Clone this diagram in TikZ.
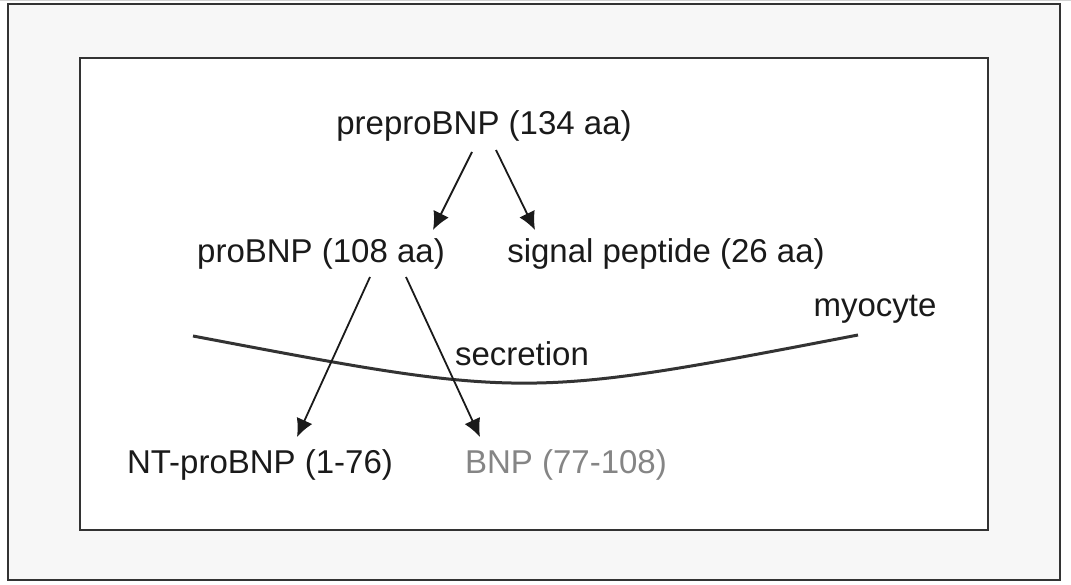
\documentclass[tikz,border=0pt]{standalone}
\usepackage{fontspec}
\setmainfont{Liberation Sans}
\usetikzlibrary{arrows.meta}
\definecolor{frame}{HTML}{333333}
\definecolor{panel}{HTML}{F7F7F7}
\definecolor{ink}{HTML}{1A1A1A}
\definecolor{faded}{HTML}{858585}
\begin{document}
\begin{tikzpicture}[x=1pt,y=-1pt,
  lbl/.style={inner sep=0pt,anchor=base,text=ink,font=\fontsize{33}{36}\selectfont},
  arr/.style={-{Latex[length=18pt,width=17pt]},line width=1.8pt,draw=ink}]
\useasboundingbox (0,0) rectangle (1071,585);
% frames
\draw[gray!35,line width=2pt] (0,0.5) -- (1071,0.5);
\draw[frame,fill=panel,line width=2pt] (8,4) rectangle (1060,580);
\draw[frame,fill=white,line width=2pt] (80,58) rectangle (988,530);

% precursor
\node[lbl] (pre) at (484,135) {preproBNP (134 aa)};
\node[lbl] (pro) at (321,263) {proBNP (108 aa)};
\node[lbl] (sig) at (666,263) {signal peptide (26 aa)};

% membrane
\coordinate (mleft) at (193,336);
\coordinate (mright) at (858,335);
\draw[frame,line width=3pt] (mleft) .. controls (525,399) .. (mright);
\node[lbl] (myo) at (875,317) {myocyte};
\node[lbl] (sec) at (522,365) {secretion};

% cleavage products
\node[lbl] (nt) at (260,473) {NT-proBNP (1-76)};
\node[lbl,text=faded] (bnp) at (566,473) {BNP (77-108)};

\draw[arr] ([shift={(-12,17)}]pre.base) -- ([shift={(112,-33)}]pro.base);
\draw[arr] ([shift={(12,15)}]pre.base) -- ([shift={(-131,-33)}]sig.base);
\draw[arr] ([shift={(49,14)}]pro.base) -- ([shift={(37,-36)}]nt.base);
\draw[arr] ([shift={(85,14)}]pro.base) -- ([shift={(-86,-36)}]bnp.base);
\end{tikzpicture}
\end{document}
